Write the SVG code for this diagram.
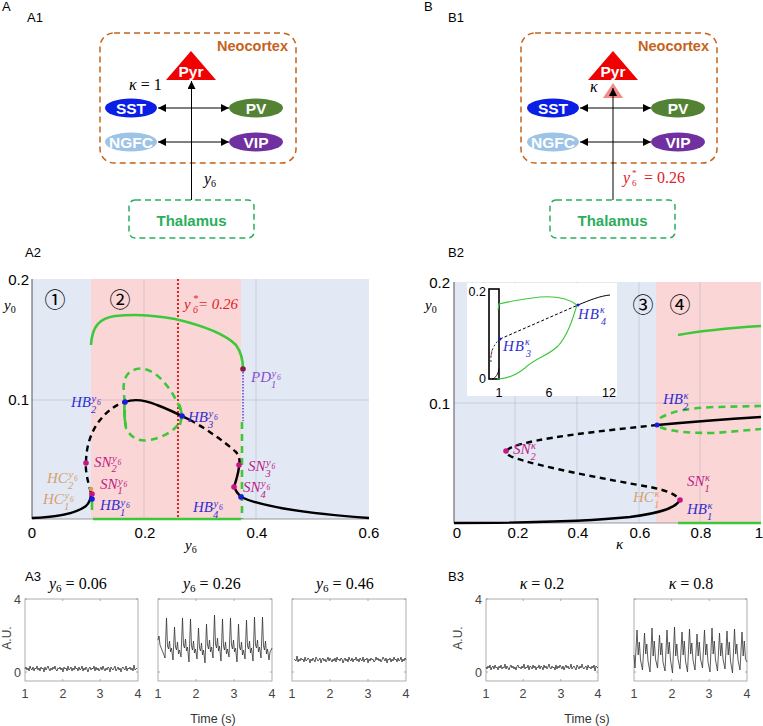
<svg xmlns="http://www.w3.org/2000/svg" width="763" height="726" viewBox="0 0 763 726">
<style>
.sans{font-family:"Liberation Sans",Arial,sans-serif}
.lab{font-family:"Liberation Sans",Arial,sans-serif;font-size:13px;fill:#000}
.tick{font-family:"Liberation Sans",Arial,sans-serif;font-size:15px;fill:#000}
.tk3{font-family:"Liberation Sans",Arial,sans-serif;font-size:12.5px;fill:#444}
.m{font-family:"Liberation Serif","DejaVu Serif",serif;font-style:italic;font-size:15px}
.mu{font-family:"Liberation Serif","DejaVu Serif",serif;font-size:16px}
.hb{fill:#2f2fd2}
.sn{fill:#c01a86}
.hc{fill:#d6a06e}
.pd{fill:#8a4fd0}
.node{font-family:"Liberation Sans",Arial,sans-serif;font-weight:bold;font-size:15.5px;fill:#fff;text-anchor:middle}
.conn{stroke:#000;stroke-width:1;fill:none}
.grid{stroke:#8a94a8;stroke-width:0.7;opacity:0.4}
.blk{stroke:#000;stroke-width:2.4;fill:none}
.blkd{stroke:#000;stroke-width:2.4;fill:none;stroke-dasharray:6,4.5}
.grn{stroke:#3cc83a;stroke-width:2.6;fill:none}
.grnd{stroke:#3cc83a;stroke-width:2.6;fill:none;stroke-dasharray:7,5}
.box3{fill:#fff;stroke:#999;stroke-width:0.8}
.trace{fill:none;stroke:#333;stroke-width:0.8}
.circ{font-family:"Noto Sans CJK SC","DejaVu Sans",sans-serif;font-size:21px;fill:#000;text-anchor:middle}
</style>
<defs>
<marker id="ah" viewBox="0 0 10 10" refX="10" refY="5" markerWidth="8" markerHeight="8" markerUnits="userSpaceOnUse" orient="auto-start-reverse">
<path d="M0,0 L10,5 L0,10 Z" fill="#000"/>
</marker>
<path id="noise" d="M0,0 L1,-2 2,1 3,-1 4,2 5,-3 6,0 7,1 8,-2 9,2 10,-1 11,0 12,-3 13,1 14,-1 15,2 16,-2 17,0 18,-1 19,3 20,-2 21,1 22,-1 23,-3 24,0 25,2 26,-1 27,1 28,-2 29,0 30,-3 31,1 32,2 33,-1 34,0 35,-2 36,1 37,-1 38,3 39,-2 40,0 41,-1 42,2 43,-3 44,1 45,0 46,-2 47,2 48,-1 49,1 50,-3 51,0 52,-1 53,2 54,-2 55,1 56,0 57,-3 58,2 59,-1 60,1 61,-2 62,0 63,3 64,-1 65,-2 66,1 67,-1 68,0 69,-3 70,2 71,-2 72,1 73,-1 74,2 75,0 76,-2 77,1 78,-3 79,0 80,2 81,-1 82,1 83,-2 84,-1 85,3 86,-2 87,0 88,1 89,-1 90,-3 91,2 92,0 93,-2 94,1 95,-1 96,3 97,-1 98,-2 99,0 100,1 101,-3 102,2 103,-1 104,0 105,-2 106,1 107,-1 108,2 109,-4 110,1 111,0 112,-1"/>
</defs>

<!-- panel letters -->
<text class="lab" x="2" y="11">A</text>
<text class="lab" x="27" y="22">A1</text>
<text class="lab" x="25" y="257">A2</text>
<text class="lab" x="25" y="581">A3</text>
<text class="lab" x="424" y="11">B</text>
<text class="lab" x="448" y="22">B1</text>
<text class="lab" x="448" y="257">B2</text>
<text class="lab" x="448" y="581">B3</text>

<!-- ===== A1 ===== -->
<g id="A1-neocortex">
<rect x="100" y="33" width="196" height="130" rx="14" fill="none" stroke="#c5631c" stroke-width="1.5" stroke-dasharray="6,4"/>
<text class="sans" x="288" y="51" text-anchor="end" font-size="14.5" font-weight="bold" fill="#c5631c">Neocortex</text>
</g>
<g id="A1-pyr"><polygon points="191,51 166,80 216,80" fill="#f00000"/><text class="node" x="191" y="77" font-size="14">Pyr</text></g>
<g id="A1-sst"><ellipse cx="131" cy="108" rx="26" ry="9.5" fill="#0a1ee6"/><text class="node" x="131" y="114">SST</text></g>
<g id="A1-pv"><ellipse cx="256" cy="108" rx="27" ry="9.5" fill="#548235"/><text class="node" x="256" y="114">PV</text></g>
<g id="A1-ngfc"><ellipse cx="131" cy="142" rx="26" ry="9.5" fill="#9dc3e6"/><text class="node" x="131" y="148">NGFC</text></g>
<g id="A1-vip"><ellipse cx="256" cy="142" rx="27" ry="9.5" fill="#7030a0"/><text class="node" x="256" y="148">VIP</text></g>
<g id="A1-thalamus">
<rect x="129" y="200" width="125" height="38" rx="6" fill="none" stroke="#2aae5c" stroke-width="1.5" stroke-dasharray="6,4"/>
<text class="sans" x="191.5" y="226" text-anchor="middle" font-size="15" font-weight="bold" fill="#2aae5c">Thalamus</text>
</g>
<!-- ===== B1 ===== -->
<g id="B1-neocortex">
<rect x="521" y="33" width="196" height="130" rx="14" fill="none" stroke="#c5631c" stroke-width="1.5" stroke-dasharray="6,4"/>
<text class="sans" x="709" y="51" text-anchor="end" font-size="14.5" font-weight="bold" fill="#c5631c">Neocortex</text>
</g>
<g id="B1-pyr"><polygon points="613,51 588,80 638,80" fill="#f00000"/><text class="node" x="613" y="77" font-size="14">Pyr</text></g>
<g id="B1-kappa-gain"><polygon points="613,83 603,98 623,98" fill="#f28a8a"/></g>
<g id="B1-sst"><ellipse cx="553" cy="108" rx="26" ry="9.5" fill="#0a1ee6"/><text class="node" x="553" y="114">SST</text></g>
<g id="B1-pv"><ellipse cx="678" cy="108" rx="27" ry="9.5" fill="#548235"/><text class="node" x="678" y="114">PV</text></g>
<g id="B1-ngfc"><ellipse cx="553" cy="142" rx="26" ry="9.5" fill="#9dc3e6"/><text class="node" x="553" y="148">NGFC</text></g>
<g id="B1-vip"><ellipse cx="678" cy="142" rx="27" ry="9.5" fill="#7030a0"/><text class="node" x="678" y="148">VIP</text></g>
<g id="B1-thalamus">
<rect x="550" y="200" width="125" height="38" rx="6" fill="none" stroke="#2aae5c" stroke-width="1.5" stroke-dasharray="6,4"/>
<text class="sans" x="612.5" y="226" text-anchor="middle" font-size="15" font-weight="bold" fill="#2aae5c">Thalamus</text>
</g>

<g id="connectors">
<line class="conn" x1="191.5" y1="200" x2="191.5" y2="81" marker-end="url(#ah)"/>
<line class="conn" x1="158" y1="108" x2="229" y2="108" marker-start="url(#ah)" marker-end="url(#ah)"/>
<line class="conn" x1="158" y1="142" x2="229" y2="142" marker-start="url(#ah)" marker-end="url(#ah)"/>
<line class="conn" x1="613" y1="200" x2="613" y2="88" marker-end="url(#ah)"/>
<line class="conn" x1="580" y1="108" x2="651" y2="108" marker-start="url(#ah)" marker-end="url(#ah)"/>
<line class="conn" x1="580" y1="142" x2="651" y2="142" marker-start="url(#ah)" marker-end="url(#ah)"/>
</g>
<text class="mu" x="129" y="90"><tspan font-style="italic">κ</tspan> = 1</text>
<text class="mu" x="204" y="184" font-style="italic">y<tspan font-size="10" font-style="normal" dy="3">6</tspan></text>
<text class="mu" x="590" y="92" font-style="italic" font-size="15">κ</text>
<text class="mu" x="623" y="183" fill="#e0202a"><tspan font-style="italic">y</tspan><tspan x="632" y="176" font-size="9">*</tspan><tspan x="632" y="186" font-size="9">6</tspan><tspan x="640" y="183"> = 0.26</tspan></text>

<!-- ===== A2 ===== -->
<g id="A2-plot">
<rect x="32" y="279" width="59" height="240" fill="#e2e9f5"/>
<rect x="91" y="279" width="150" height="240" fill="#fbd6d6"/>
<rect x="241" y="279" width="128" height="240" fill="#e2e9f5"/>
<line class="grid" x1="144" y1="279" x2="144" y2="519"/>
<line class="grid" x1="256" y1="279" x2="256" y2="519"/>
<line class="grid" x1="32" y1="400" x2="369" y2="400"/>
<line x1="32" y1="279" x2="32" y2="519" stroke="#555" stroke-width="1"/>
<line x1="32" y1="519" x2="369" y2="519" stroke="#999" stroke-width="1"/>
<line x1="178" y1="279" x2="178" y2="519" stroke="#e0201f" stroke-width="2" stroke-dasharray="2,2"/>
<!-- green -->
<path class="grn" d="M91,345 C92,326 100,318 115,316 C135,314 150,315 175,319 C205,326 225,334 236,345 C241,352 243,360 243,369"/>
<line x1="243" y1="369" x2="243" y2="421" stroke="#7b3fc8" stroke-width="1.6" stroke-dasharray="1.5,1.5"/>
<line class="grnd" x1="242" y1="422" x2="242" y2="519"/>
<line class="grn" x1="93" y1="519" x2="241" y2="519"/>
<path class="grnd" d="M125,402 C123,390 122,378 130,372 C140,365 152,369 163,381 C172,391 180,405 182,416 C180,428 165,437 150,440 C138,442 130,437 126,428 C124,420 125,410 125,402 Z"/>
<path class="grn" d="M125,400 C124,408 124,418 126,426"/>
<path class="grn" d="M179,404 C182,410 182,418 180,425"/>
<line class="grn" x1="92" y1="501" x2="92" y2="510"/>
<!-- black -->
<path class="blk" d="M32,518 C60,517 78,512 86,506 C90,502 91,498 91,493"/>
<path class="blkd" d="M91,493 C88,482 85,470 86,463 C86,445 92,430 100,420 C108,410 117,404 125,402"/>
<path class="blk" d="M125,402 C133,399 145,400 157,405 C168,409 180,415 190,420"/>
<path class="blkd" d="M190,420 C205,428 225,442 236,452 C240,457 240,462 239,466"/>
<path class="blk" d="M239,467 C238,475 236,481 234,487 C236,492 239,495 241,497"/>
<path class="blk" d="M241,497 C260,506 300,513 369,518"/>
<!-- points -->
<circle cx="91" cy="489" r="2.2" fill="#e0a040"/>
<circle cx="92" cy="494" r="2.8" fill="#c71585"/>
<circle cx="92" cy="499" r="2.8" fill="#1a1ae0"/>
<circle cx="86" cy="463" r="2.8" fill="#c71585"/>
<circle cx="125" cy="402" r="2.8" fill="#1a1ae0"/>
<circle cx="182" cy="416" r="2.8" fill="#1a1ae0"/>
<circle cx="239" cy="465" r="2.8" fill="#c71585"/>
<circle cx="234" cy="487" r="2.8" fill="#c71585"/>
<circle cx="241" cy="497" r="2.8" fill="#1a1ae0"/>
<circle cx="243" cy="369" r="2.8" fill="#8b1a4a"/>
</g>
<text class="circ" x="55" y="307">①</text>
<text class="circ" x="120" y="307">②</text>
<text class="m" x="4" y="310" fill="#000">y<tspan font-style="normal" font-size="10" dy="3">0</tspan></text>
<text class="m" x="184" y="309" fill="#e0201f">y<tspan x="193" y="302" font-size="10">*</tspan><tspan x="193" y="313" font-size="10">6</tspan><tspan x="198" y="309">= 0.26</tspan></text>
<text class="m hb" x="71" y="407">HB<tspan x="91.5" y="402" font-size="10.5">y</tspan><tspan x="97" y="405" font-size="7.5">6</tspan><tspan x="91" y="413" font-size="10.5">2</tspan></text>
<text class="m hb" x="188" y="422">HB<tspan x="208.5" y="417" font-size="10.5">y</tspan><tspan x="214" y="420" font-size="7.5">6</tspan><tspan x="208" y="428" font-size="10.5">3</tspan></text>
<text class="m pd" x="251" y="382">PD<tspan x="271.5" y="377" font-size="10.5">y</tspan><tspan x="277" y="380" font-size="7.5">6</tspan><tspan x="271" y="388" font-size="10.5">1</tspan></text>
<text class="m sn" x="94" y="467">SN<tspan x="112" y="462" font-size="10.5">y</tspan><tspan x="117.5" y="465" font-size="7.5">6</tspan><tspan x="111.5" y="472" font-size="10.5">2</tspan></text>
<text class="m sn" x="100" y="489">SN<tspan x="118" y="484.5" font-size="10.5">y</tspan><tspan x="123.5" y="487" font-size="7.5">6</tspan><tspan x="117.5" y="494" font-size="10.5">1</tspan></text>
<text class="m sn" x="248" y="471">SN<tspan x="266" y="466" font-size="10.5">y</tspan><tspan x="271.5" y="469" font-size="7.5">6</tspan><tspan x="265.5" y="477" font-size="10.5">3</tspan></text>
<text class="m sn" x="243" y="492">SN<tspan x="261" y="487" font-size="10.5">y</tspan><tspan x="266.5" y="490" font-size="7.5">6</tspan><tspan x="260.5" y="498" font-size="10.5">4</tspan></text>
<text class="m hc" x="47" y="483">HC<tspan x="68.5" y="478" font-size="10.5">y</tspan><tspan x="74" y="481" font-size="7.5">6</tspan><tspan x="68" y="489" font-size="10.5">2</tspan></text>
<text class="m hc" x="43" y="504">HC<tspan x="64.5" y="499" font-size="10.5">y</tspan><tspan x="70" y="502" font-size="7.5">6</tspan><tspan x="64" y="510" font-size="10.5">1</tspan></text>
<text class="m hb" x="100" y="510">HB<tspan x="120.5" y="505.5" font-size="10.5">y</tspan><tspan x="126" y="508" font-size="7.5">6</tspan><tspan x="120" y="516" font-size="10.5">1</tspan></text>
<text class="m hb" x="193" y="512">HB<tspan x="213.5" y="507" font-size="10.5">y</tspan><tspan x="219" y="510" font-size="7.5">6</tspan><tspan x="213" y="518" font-size="10.5">4</tspan></text>
<text class="tick" x="29" y="285" text-anchor="end">0.2</text>
<text class="tick" x="29" y="405" text-anchor="end">0.1</text>
<text class="tick" x="32" y="538" text-anchor="middle">0</text>
<text class="tick" x="145" y="538" text-anchor="middle">0.2</text>
<text class="tick" x="257" y="538" text-anchor="middle">0.4</text>
<text class="tick" x="369" y="538" text-anchor="middle">0.6</text>
<text class="m" x="185" y="550" fill="#000">y<tspan font-style="normal" font-size="10" dy="3">6</tspan></text>

<!-- ===== B2 ===== -->
<g id="B2-plot">
<rect x="454" y="282" width="202" height="241" fill="#e2e9f5"/>
<rect x="656" y="282" width="105" height="241" fill="#fbd6d6"/>
<line class="grid" x1="515" y1="282" x2="515" y2="523"/>
<line class="grid" x1="577" y1="282" x2="577" y2="523"/>
<line class="grid" x1="639" y1="282" x2="639" y2="523"/>
<line class="grid" x1="700" y1="282" x2="700" y2="523"/>
<line class="grid" x1="454" y1="403" x2="761" y2="403"/>
<line x1="454" y1="282" x2="454" y2="523" stroke="#555" stroke-width="1"/>
<line x1="454" y1="523" x2="761" y2="523" stroke="#999" stroke-width="1"/>
<!-- inset -->
<rect x="467" y="283" width="150" height="113" fill="#fff"/>
<rect x="489" y="289" width="10" height="90" fill="none" stroke="#000" stroke-width="1.6"/>
<path d="M498,310 L499,304 C510,301 525,299 540,297 C555,296 568,298 577,305 C573,318 568,335 558,346 C548,356 535,358 525,368 C515,376 505,379 497,379" fill="none" stroke="#3cc83a" stroke-width="1.1"/>
<path d="M578,305 C590,300 600,296 610,295" fill="none" stroke="#000" stroke-width="1"/>
<path d="M500,339 L578,305" fill="none" stroke="#000" stroke-width="1" stroke-dasharray="3,2"/>
<path d="M491,362 C490,352 494,344 500,339" fill="none" stroke="#000" stroke-width="0.8" stroke-dasharray="2,2"/>
<path d="M492,379 C496,378 498,374 499,369" fill="none" stroke="#000" stroke-width="0.9"/>
<path d="M491,356 L492,350" stroke="#c71585" stroke-width="0.8"/>
<circle cx="578" cy="305" r="1.5" fill="#1a1ae0"/>
<circle cx="500" cy="339" r="1.5" fill="#1a1ae0"/>
<!-- curves -->
<path class="grn" d="M678,335 C700,331 730,328 761,326"/>
<path class="grnd" d="M660,418 C672,411 690,408 715,407 L761,406"/>
<path class="grnd" d="M660,427 C672,432 690,433 715,433 L761,429"/>
<path class="blk" d="M657,425 C690,422 730,419 761,417"/>
<path class="blkd" d="M657,425 C600,431 535,438 512,447 C505,450 505,454 512,457 C540,467 610,480 650,487 C665,490 676,494 680,500"/>
<path class="blk" d="M680,500 C676,508 660,513 630,517 C590,521 520,523 454,523"/>
<line class="grn" x1="678" y1="523" x2="761" y2="523"/>
<circle cx="657" cy="425" r="2.5" fill="#1a1ae0"/>
<circle cx="506" cy="451" r="2.8" fill="#c71585"/>
<circle cx="680" cy="500" r="2.8" fill="#c71585"/>
</g>
<text class="circ" x="643" y="312">③</text>
<text class="circ" x="680" y="312">④</text>
<text class="m" x="425" y="310" fill="#000">y<tspan font-style="normal" font-size="10" dy="3">0</tspan></text>
<text class="sans" x="486" y="296" text-anchor="end" font-size="12.5">0.2</text>
<text class="sans" x="486" y="383" text-anchor="end" font-size="12.5">0</text>
<text class="sans" x="499" y="397" text-anchor="middle" font-size="12.5">1</text>
<text class="sans" x="549" y="397" text-anchor="middle" font-size="12.5">6</text>
<text class="sans" x="609" y="397" text-anchor="middle" font-size="12.5">12</text>
<text class="m hb" x="578" y="319" font-size="14" letter-spacing="1">HB<tspan x="600" y="313" font-size="10">κ</tspan><tspan x="601" y="325" font-size="10">4</tspan></text>
<text class="m hb" x="503" y="351" font-size="14" letter-spacing="1">HB<tspan x="525" y="345" font-size="10">κ</tspan><tspan x="526" y="357" font-size="10">3</tspan></text>
<text class="m hb" x="663" y="404">HB<tspan x="683.5" y="399" font-size="10.5">κ</tspan><tspan x="683" y="410" font-size="10.5">2</tspan></text>
<text class="m sn" x="513" y="454">SN<tspan x="531" y="449" font-size="10.5">κ</tspan><tspan x="530.5" y="460" font-size="10.5">2</tspan></text>
<text class="m sn" x="687" y="486">SN<tspan x="705" y="481" font-size="10.5">κ</tspan><tspan x="704.5" y="492" font-size="10.5">1</tspan></text>
<text class="m hc" x="633" y="502">HC<tspan x="654.5" y="497" font-size="10.5">κ</tspan><tspan x="654" y="508" font-size="10.5">1</tspan></text>
<text class="m hb" x="687" y="514">HB<tspan x="707.5" y="509" font-size="10.5">κ</tspan><tspan x="707" y="520" font-size="10.5">1</tspan></text>
<text class="tick" x="450" y="288" text-anchor="end">0.2</text>
<text class="tick" x="450" y="409" text-anchor="end">0.1</text>
<text class="tick" x="457" y="538" text-anchor="middle">0</text>
<text class="tick" x="518" y="538" text-anchor="middle">0.2</text>
<text class="tick" x="578" y="538" text-anchor="middle">0.4</text>
<text class="tick" x="640" y="538" text-anchor="middle">0.6</text>
<text class="tick" x="701" y="538" text-anchor="middle">0.8</text>
<text class="tick" x="759" y="538" text-anchor="middle">1</text>
<text class="m" x="616" y="549" fill="#000">κ</text>

<!-- ===== A3 ===== -->
<g id="A3-panels">
<rect class="box3" x="25" y="599" width="113" height="82"/>
<rect class="box3" x="158" y="599" width="114" height="82"/>
<rect class="box3" x="292" y="599" width="114" height="82"/>
<path d="M25,672 h2 M136,672 h2 M25,599 h2 M136,599 h2 M158,672 h2 M270,672 h2 M158,599 h2 M270,599 h2 M292,672 h2 M404,672 h2 M292,599 h2 M404,599 h2 M62.7,599 v2 M100.3,599 v2 M62.7,681 v-2 M100.3,681 v-2 M196,599 v2 M234,599 v2 M196,681 v-2 M234,681 v-2 M330,599 v2 M368,599 v2 M330,681 v-2 M368,681 v-2" stroke="#999" stroke-width="0.8"/>
<use href="#noise" class="trace" transform="translate(25,669)"/>
<polyline class="trace" points="158,640 159,636 160,645 162,650 164,655 165,658 166.5,618 167.5,646 168.5,649 169.5,641 170.5,652 171.5,648 173,660 174.5,627 175.5,647 176.5,650 177.5,642 178.5,654 179.5,650 181,657 182.5,618 183.5,645 184.5,648 185.5,639 186.5,651 187.5,647 189,662 190.5,619 191.5,646 192.5,650 193.5,641 194.5,653 195.5,649 197,659 198.5,628 199.5,648 200.5,651 201.5,643 202.5,655 203.5,650 205,663 206.5,624 207.5,645 208.5,649 209.5,640 210.5,652 211.5,647 213,658 214.5,615 215.5,644 216.5,648 217.5,638 218.5,651 219.5,646 221,661 222.5,619 223.5,646 224.5,650 225.5,642 226.5,654 227.5,649 229,657 230.5,618 231.5,645 232.5,649 233.5,640 234.5,652 235.5,648 237,662 238.5,624 239.5,647 240.5,650 241.5,642 242.5,655 243.5,650 245,659 246.5,620 247.5,646 248.5,649 249.5,641 250.5,653 251.5,648 253,661 254.5,617 255.5,645 256.5,648 257.5,640 258.5,652 259.5,647 261,658 262.5,617 263.5,646 264.5,650 265.5,641 266.5,654 267.5,649 269,660 270,652 272,648"/>
<use href="#noise" class="trace" transform="translate(406,660) scale(-1,1)"/>
</g>
<text class="tk3" x="21" y="604" text-anchor="end">4</text>
<text class="tk3" x="21" y="677" text-anchor="end">0</text>
<text class="sans" transform="translate(11,638) rotate(-90)" text-anchor="middle" font-size="12" fill="#444">A.U.</text>
<text class="tk3" x="25" y="698" text-anchor="middle">1</text>
<text class="tk3" x="63" y="698" text-anchor="middle">2</text>
<text class="tk3" x="100" y="698" text-anchor="middle">3</text>
<text class="tk3" x="138" y="698" text-anchor="middle">4</text>
<text class="tk3" x="158" y="698" text-anchor="middle">1</text>
<text class="tk3" x="196" y="698" text-anchor="middle">2</text>
<text class="tk3" x="234" y="698" text-anchor="middle">3</text>
<text class="tk3" x="272" y="698" text-anchor="middle">4</text>
<text class="tk3" x="292" y="698" text-anchor="middle">1</text>
<text class="tk3" x="330" y="698" text-anchor="middle">2</text>
<text class="tk3" x="368" y="698" text-anchor="middle">3</text>
<text class="tk3" x="406" y="698" text-anchor="middle">4</text>
<text class="sans" x="213" y="723" text-anchor="middle" font-size="12.5" fill="#333">Time (s)</text>
<text class="mu" x="49" y="589"><tspan font-style="italic">y</tspan><tspan font-size="11" dy="3">6</tspan><tspan dy="-3"> =  0.06</tspan></text>
<text class="mu" x="183" y="589"><tspan font-style="italic">y</tspan><tspan font-size="11" dy="3">6</tspan><tspan dy="-3"> =  0.26</tspan></text>
<text class="mu" x="316" y="589"><tspan font-style="italic">y</tspan><tspan font-size="11" dy="3">6</tspan><tspan dy="-3"> =  0.46</tspan></text>

<!-- ===== B3 ===== -->
<g id="B3-panels">
<rect class="box3" x="486" y="599" width="112" height="82"/>
<rect class="box3" x="634" y="599" width="113" height="82"/>
<path d="M486,672 h2 M596,672 h2 M486,599 h2 M596,599 h2 M634,672 h2 M745,672 h2 M634,599 h2 M745,599 h2 M523.3,599 v2 M560.7,599 v2 M523.3,681 v-2 M560.7,681 v-2 M671.7,599 v2 M709.3,599 v2 M671.7,681 v-2 M709.3,681 v-2" stroke="#999" stroke-width="0.8"/>
<use href="#noise" class="trace" transform="translate(486,667) scale(1,-1)"/>
<polyline class="trace" points="634,655 635,668 637,630 638.2,655 639.3,642 640.5,660 642.5,670 644.5,633 645.7,654 646.8,644 648,661 650,672 652,628 653.2,656 654.3,641 655.5,659 657.5,668 659.5,635 660.7,655 661.8,643 663,662 665,671 667,630 668.2,654 669.3,642 670.5,660 672.5,673 674.5,627 675.7,656 676.8,644 678,659 680,669 682,632 683.2,655 684.3,641 685.5,661 687.5,672 689.5,629 690.7,654 691.8,643 693,660 695,670 697,634 698.2,656 699.3,642 700.5,659 702.5,668 704.5,630 705.7,655 706.8,644 708,662 710,672 712,628 713.2,654 714.3,641 715.5,660 717.5,671 719.5,633 720.7,656 721.8,643 723,659 725,669 727,631 728.2,655 729.3,642 730.5,661 732.5,673 734.5,629 735.7,654 736.8,644 738,660 740,670 742,632 743.2,656 744.3,641 745.5,659 747,662"/>
</g>
<text class="tk3" x="482" y="604" text-anchor="end">4</text>
<text class="tk3" x="482" y="677" text-anchor="end">0</text>
<text class="sans" transform="translate(462,638) rotate(-90)" text-anchor="middle" font-size="12" fill="#444">A.U.</text>
<text class="tk3" x="486" y="698" text-anchor="middle">1</text>
<text class="tk3" x="523" y="698" text-anchor="middle">2</text>
<text class="tk3" x="561" y="698" text-anchor="middle">3</text>
<text class="tk3" x="598" y="698" text-anchor="middle">4</text>
<text class="tk3" x="634" y="698" text-anchor="middle">1</text>
<text class="tk3" x="672" y="698" text-anchor="middle">2</text>
<text class="tk3" x="709" y="698" text-anchor="middle">3</text>
<text class="tk3" x="747" y="698" text-anchor="middle">4</text>
<text class="sans" x="587" y="723" text-anchor="middle" font-size="12.5" fill="#333">Time (s)</text>
<text class="mu" x="542" y="589" text-anchor="middle"><tspan font-style="italic">κ</tspan> = 0.2</text>
<text class="mu" x="691" y="589" text-anchor="middle"><tspan font-style="italic">κ</tspan> = 0.8</text>
</svg>
